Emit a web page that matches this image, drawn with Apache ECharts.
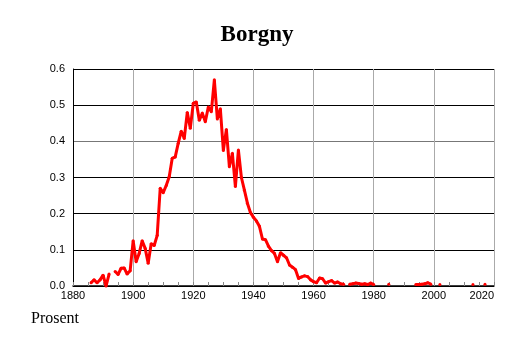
<!DOCTYPE html>
<html>
<head>
<meta charset="utf-8">
<script src="https://cdn.jsdelivr.net/npm/echarts@6/dist/echarts.min.js"></script>
<style>
html,body{margin:0;padding:0;background:#fff;}
#chart{width:514px;height:343px;}
</style>
</head>
<body>
<div id="chart"></div>
<script>
var title = "Borgny";
var yLabel = "Prosent";
var firstYear = 1886;
var values = [
  0.009, 0.017, 0.009, 0.017, 0.03, 0.0, 0.033, null, 0.04, 0.032,   // 1886-1895
  0.049, 0.05, 0.033, 0.042, 0.125, 0.067, 0.09, 0.125, 0.104, 0.063, // 1896-1905
  0.117, 0.112, 0.14, 0.27, 0.258, 0.278, 0.302, 0.353, 0.357, 0.395, // 1906-1915
  0.428, 0.408, 0.48, 0.436, 0.505, 0.509, 0.458, 0.478, 0.454, 0.495, // 1916-1925
  0.482, 0.57, 0.462, 0.49, 0.375, 0.433, 0.33, 0.367, 0.275, 0.376,  // 1926-1935
  0.3, 0.265, 0.229, 0.203, 0.19, 0.18, 0.165, 0.13, 0.128, 0.11,     // 1936-1945
  0.098, 0.09, 0.067, 0.092, 0.085, 0.078, 0.058, 0.052, 0.045, 0.021, // 1946-1955
  0.025, 0.028, 0.026, 0.017, 0.012, 0.009, 0.022, 0.02, 0.008, 0.012, // 1956-1965
  0.015, 0.008, 0.011, 0.006, 0.005, null, 0.005, 0.006, 0.008, 0.007, // 1966-1975
  0.005, 0.006, 0.004, 0.008, 0.004, null, null, null, null, 0.005,   // 1976-1985
  null, null, null, null, null, null, null, null, 0.004, 0.004,       // 1986-1995
  0.005, 0.006, 0.009, 0.005, null, null, 0.004, null, null, null,   // 1996-2005
  null, null, null, null, null, null, null, 0.004, null, null,        // 2006-2015
  null, 0.005                                                        // 2016-2017
];
var yTicks = ["0.0","0.1","0.2","0.3","0.4","0.5","0.6"];

var data = values.map(function(v, i){ return [firstYear + i, v]; });

var chart = echarts.init(document.getElementById('chart'), null, {renderer:'canvas'});
chart.setOption({
  animation: false,
  backgroundColor: '#fff',
  title: [{
    text: title, left: 'center', top: 19,
    textStyle: {fontFamily: 'Liberation Serif', fontWeight: 'bold', fontSize: 23, color: '#000'}
  },{
    text: yLabel, left: 26, top: 306,
    textStyle: {fontFamily: 'Liberation Serif', fontWeight: 'normal', fontSize: 16, color: '#000'}
  }],
  grid: {left: 73, right: 20, top: 69, bottom: 57, containLabel: false},
  xAxis: {
    type: 'value', min: 1880, max: 2020, interval: 20,
    axisLine: {show: true, onZero: false, lineStyle: {color: '#000', width: 1.5}},
    axisTick: {show: true, inside: true, length: 4, lineStyle: {color: '#888'}},
    minorTick: {show: true, splitNumber: 4, length: 4, lineStyle: {color: '#888'}},
    splitLine: {show: true, lineStyle: {color: '#aaa', width: 1}},
    axisLabel: {
      color: '#000', fontFamily: 'Liberation Sans', fontSize: 11, margin: 4,
      alignMaxLabel: 'right',
      formatter: function(v){ return String(v); }
    }
  },
  yAxis: {
    type: 'value', min: 0, max: 0.6, interval: 0.1,
    axisLine: {show: true, lineStyle: {color: '#000', width: 1}},
    axisTick: {show: false},
    splitLine: {show: true, lineStyle: {color: ['#000','#000','#000','#000','#777','#000','#000'], width: 1}},
    axisLabel: {
      color: '#000', fontFamily: 'Liberation Sans', fontSize: 11, margin: 8,
      formatter: function(v){ return yTicks[Math.round(v * 10)]; }
    }
  },
  series: [{
    type: 'line',
    data: data,
    connectNulls: false,
    showSymbol: true,
    showAllSymbol: true,
    symbol: 'circle',
    symbolSize: 3,
    itemStyle: {color: '#ff0000', borderWidth: 0},
    lineStyle: {color: '#ff0000', width: 3},
    emphasis: {disabled: true}
  }]
});
</script>
</body>
</html>
